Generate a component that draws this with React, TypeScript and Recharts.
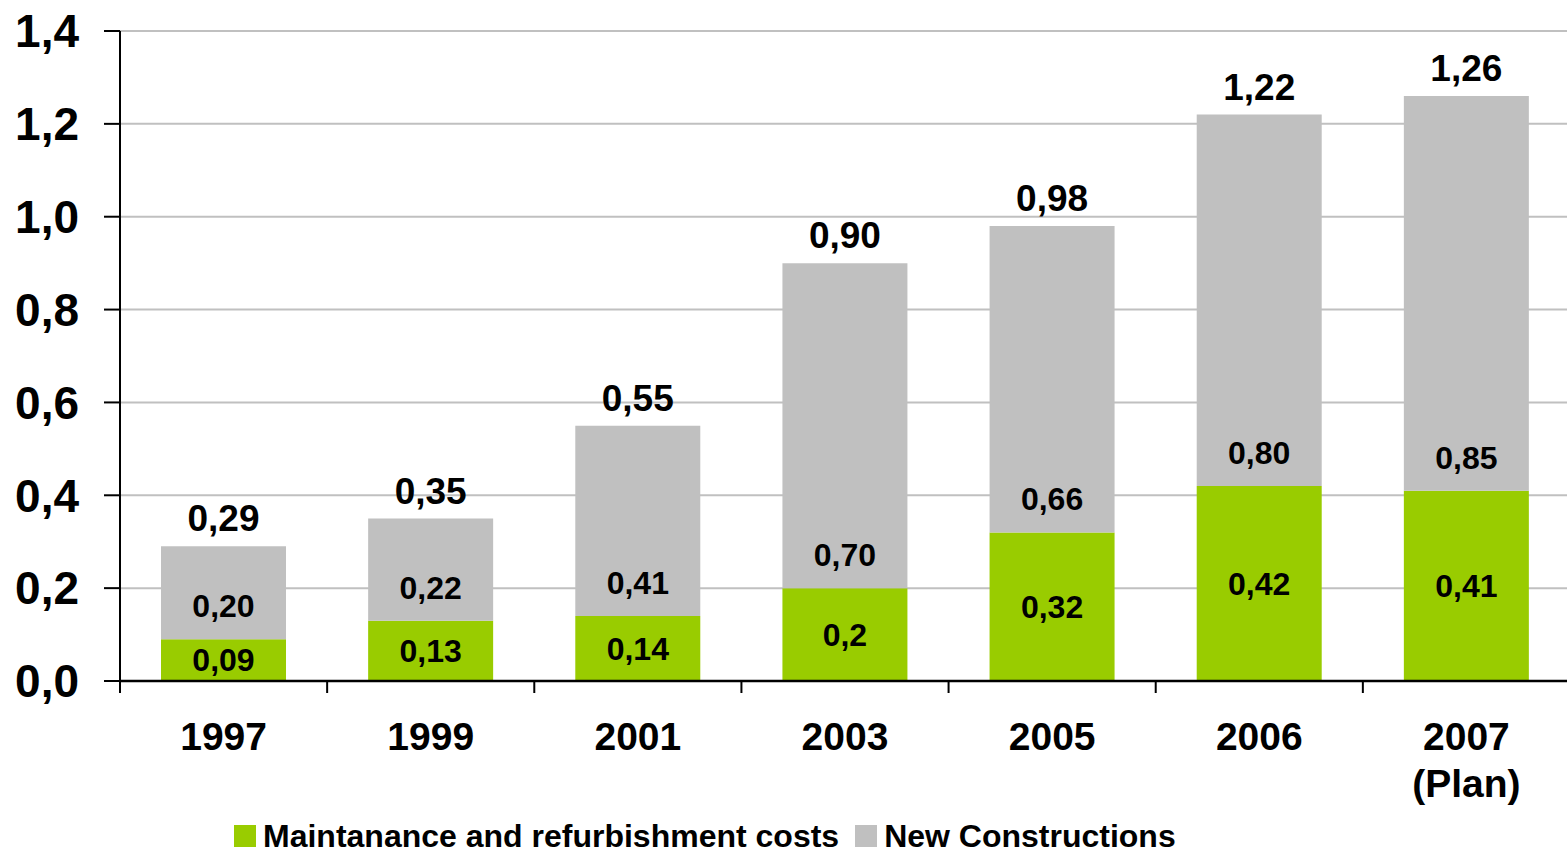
import React from "react";
import { BarChart, Bar, XAxis, YAxis, CartesianGrid, LabelList } from "recharts";

const years = ["1997", "1999", "2001", "2003", "2005", "2006", "2007"];
const yearNotes = ["", "", "", "", "", "", "(Plan)"];
const maintenance = [0.09, 0.13, 0.14, 0.2, 0.32, 0.42, 0.41];
const newConstructions = [0.2, 0.22, 0.41, 0.7, 0.66, 0.8, 0.85];
const totals = [0.29, 0.35, 0.55, 0.9, 0.98, 1.22, 1.26];
const maintenanceLabels = ["0,09", "0,13", "0,14", "0,2", "0,32", "0,42", "0,41"];
const yTicks = [0, 0.2, 0.4, 0.6, 0.8, 1.0, 1.2, 1.4];

const GREEN = "#99cc00";
const GREY = "#c0c0c0";
const FONT = "'Liberation Sans', Arial, sans-serif";

const comma = (v: number) => v.toFixed(2).replace(".", ",");

const data = years.map((year, i) => ({
  year,
  note: yearNotes[i],
  maintenance: maintenance[i],
  newConstructions: newConstructions[i],
  mLabel: maintenanceLabels[i],
  nLabel: comma(newConstructions[i]),
  tLabel: comma(totals[i]),
}));

function GreenLabel(props: any) {
  const x = Number(props.x), y = Number(props.y);
  const w = Number(props.width), h = Number(props.height);
  return (
    <text x={x + w / 2} y={y + h / 2 + 11} textAnchor="middle" fontSize={32} fontWeight="bold" fill="#000" fontFamily={FONT}>
      {props.value}
    </text>
  );
}

function GreyLabel(props: any) {
  const x = Number(props.x), y = Number(props.y);
  const w = Number(props.width), h = Number(props.height);
  return (
    <text x={x + w / 2} y={y + h - 22} textAnchor="middle" fontSize={32} fontWeight="bold" fill="#000" fontFamily={FONT}>
      {props.value}
    </text>
  );
}

function TotalLabel(props: any) {
  const x = Number(props.x), y = Number(props.y);
  const w = Number(props.width);
  return (
    <text x={x + w / 2} y={y - 15} textAnchor="middle" fontSize={37} fontWeight="bold" fill="#000" fontFamily={FONT}>
      {props.value}
    </text>
  );
}

function YearTick(props: any) {
  const { x, y, payload, index } = props;
  const half = payload?.offset || 103.5;
  const note = yearNotes[index];
  return (
    <g>
      <line x1={x - half} x2={x - half} y1={y} y2={y + 12} stroke="#000" strokeWidth={2} />
      {index === years.length - 1 && (
        <line x1={x + half} x2={x + half} y1={y} y2={y + 12} stroke="#000" strokeWidth={2} />
      )}
      <text x={x} y={y + 69} textAnchor="middle" fontSize={39} fontWeight="bold" fill="#000" fontFamily={FONT}>
        {payload.value}
      </text>
      {note && (
        <text x={x} y={y + 116} textAnchor="middle" fontSize={39} fontWeight="bold" fill="#000" fontFamily={FONT}>
          {note}
        </text>
      )}
    </g>
  );
}

export default function App() {
  return (
    <div
      style={{
        position: "absolute",
        left: 0,
        top: 0,
        width: 1567,
        height: 855,
        overflow: "hidden",
        background: "#fff",
        fontFamily: FONT,
      }}
    >
      <BarChart width={1570} height={855} data={data} margin={{ top: 31, right: 0, left: 0, bottom: 0 }}>
        <CartesianGrid horizontal vertical={false} stroke={GREY} strokeWidth={2} />
        <XAxis
          dataKey="year"
          height={174}
          tickLine={false}
          tickSize={0}
          tickMargin={0}
          axisLine={{ stroke: "#000", strokeWidth: 2.5 }}
          tick={<YearTick />}
          interval={0}
        />
        <YAxis
          width={120}
          domain={[0, 1.4]}
          ticks={yTicks}
          tickFormatter={(v: number) => v.toFixed(1).replace(".", ",")}
          tickSize={16}
          tickMargin={25}
          tickLine={{ stroke: "#000", strokeWidth: 2 }}
          axisLine={{ stroke: "#000", strokeWidth: 2 }}
          tick={{ fill: "#000", fontSize: 46, fontWeight: "bold", fontFamily: FONT }}
        />
        <Bar dataKey="maintenance" stackId="a" fill={GREEN} barSize={125} isAnimationActive={false}>
          <LabelList dataKey="mLabel" content={<GreenLabel />} />
        </Bar>
        <Bar dataKey="newConstructions" stackId="a" fill={GREY} barSize={125} isAnimationActive={false}>
          <LabelList dataKey="nLabel" content={<GreyLabel />} />
          <LabelList dataKey="tLabel" content={<TotalLabel />} />
        </Bar>
      </BarChart>
      <div
        style={{
          position: "absolute",
          left: 234,
          top: 820,
          display: "flex",
          alignItems: "center",
          fontSize: 32,
          fontWeight: "bold",
          color: "#000",
          whiteSpace: "nowrap",
          lineHeight: "32px",
        }}
      >
        <span style={{ width: 22, height: 22, background: GREEN, display: "inline-block", marginRight: 7 }} />
        <span style={{ marginRight: 16 }}>Maintanance and refurbishment costs</span>
        <span style={{ width: 22, height: 22, background: GREY, display: "inline-block", marginRight: 7 }} />
        <span>New Constructions</span>
      </div>
    </div>
  );
}
